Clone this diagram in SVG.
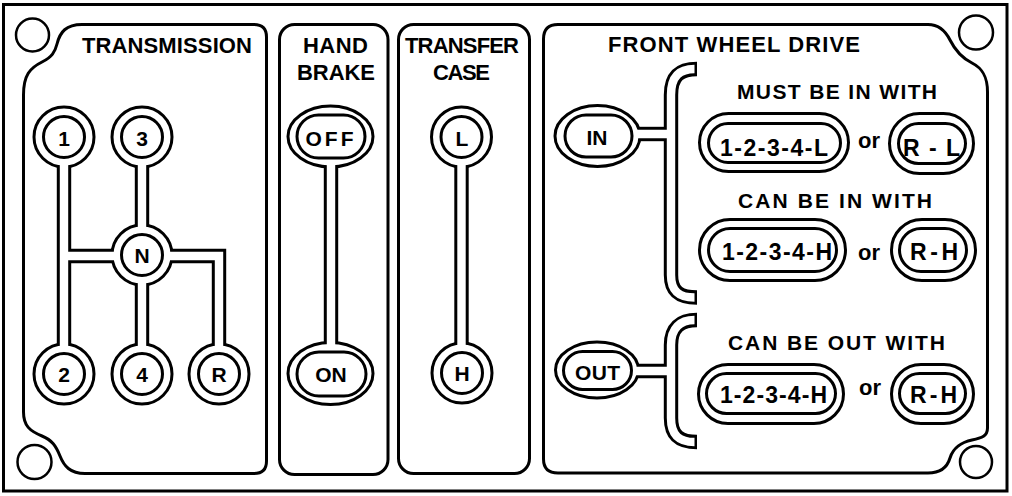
<svg xmlns="http://www.w3.org/2000/svg" width="1012" height="496" viewBox="0 0 1012 496">
<style>
.ln{fill:none;stroke:#000;stroke-width:3}
.hole{fill:none;stroke:#000;stroke-width:2.5}
.node{fill:#fff;stroke:#000;stroke-width:3}
.ring{fill:none;stroke:#000;stroke-width:3}
.t{font-family:"Liberation Sans",Arial,sans-serif;font-weight:bold;fill:#000;text-anchor:middle}
.h{font-size:22px}
.s{font-size:21px}
.k{font-size:21px}
.p{font-size:23px}
.cb{fill:none;stroke:#000;stroke-width:14.4;stroke-linecap:butt;stroke-linejoin:miter}
.cw{fill:none;stroke:#fff;stroke-width:8.4;stroke-linecap:butt;stroke-linejoin:miter}
</style>
<rect width="1012" height="496" fill="#fff"/>
<g id="plate">
<rect class="ln" x="3.5" y="4.5" width="1003.5" height="486.5"/>
<circle class="hole" cx="32.5" cy="35" r="16.5"/>
<circle class="hole" cx="34.5" cy="462" r="17"/>
<circle class="hole" cx="976" cy="32.5" r="17"/>
<circle class="hole" cx="976" cy="462" r="16"/>
</g>
<g id="panel-transmission">
<path class="ln" d="M23.5,95 C23.5,75 30,68 42,62 C52,57 55,52 57,44 C60,32 66,24.5 82,24.5 H254 Q266.5,24.5 266.5,37 V461 Q266.5,473.5 254,473.5 H85 C70,473.5 64,466 60,456 C56,446 52,440 42,436 C30,431 23.5,426 23.5,412 Z"/>
<text class="t h" x="167" y="53" textLength="170">TRANSMISSION</text>
</g>
<g id="panel-hand-brake">
<rect class="ln" x="279.5" y="24.5" width="108.5" height="450" rx="15"/>
<text class="t h" x="335.5" y="53" textLength="65">HAND</text>
<text class="t h" x="336" y="80" textLength="78">BRAKE</text>
</g>
<g id="panel-transfer-case">
<rect class="ln" x="398.5" y="24.5" width="131" height="449" rx="15"/>
<text class="t h" x="462" y="53" textLength="114">TRANSFER</text>
<text class="t h" x="461.5" y="80" textLength="57">CASE</text>
</g>
<g id="panel-front-wheel-drive">
<path class="ln" d="M558,24.5 H928 C940,24.5 946,32 950,40 C955,50 962,58 972,63 C982,68 987.5,76 987.5,92 V428 C987.5,436 982,438 972,440 C962,442 953,448 950,458 C947,468 940,473 928,473 H558 Q543.5,473 543.5,459 V39 Q543.5,24.5 558,24.5 Z"/>
<text class="t h" x="734" y="52" textLength="252">FRONT WHEEL DRIVE</text>
<text class="t s" x="837" y="99" textLength="200">MUST BE IN WITH</text>
<text class="t s" x="835" y="208" textLength="194">CAN BE IN WITH</text>
<text class="t s" x="836.5" y="350" textLength="217">CAN BE OUT WITH</text>
</g>
<g id="gear-1"><circle class="node" cx="64" cy="137" r="30"/><circle class="ring" cx="64" cy="137" r="20.5"/><text class="t k" x="64" y="146">1</text></g>
<g id="gear-3"><circle class="node" cx="142" cy="137" r="30"/><circle class="ring" cx="142" cy="137" r="20.5"/><text class="t k" x="142" y="146">3</text></g>
<g id="gear-N"><circle class="node" cx="142" cy="255" r="30"/><circle class="ring" cx="142" cy="255" r="20.5"/><text class="t k" x="142" y="263">N</text></g>
<g id="gear-2"><circle class="node" cx="64" cy="374" r="30"/><circle class="ring" cx="64" cy="374" r="20.5"/><text class="t k" x="64" y="382">2</text></g>
<g id="gear-4"><circle class="node" cx="142" cy="374" r="30"/><circle class="ring" cx="142" cy="374" r="20.5"/><text class="t k" x="142" y="382">4</text></g>
<g id="gear-R"><circle class="node" cx="219" cy="374" r="30"/><circle class="ring" cx="219" cy="374" r="20.5"/><text class="t k" x="219" y="382">R</text></g>
<g id="brake-off"><ellipse class="node" cx="330.5" cy="136.5" rx="42.5" ry="30.5"/><rect class="ring" x="297" y="115" width="68" height="43" rx="21.5"/><text class="t k" x="329.5" y="146" textLength="48">OFF</text></g>
<g id="brake-on"><ellipse class="node" cx="330.5" cy="373.5" rx="42.5" ry="31"/><rect class="ring" x="297" y="352" width="69" height="44" rx="22"/><text class="t k" x="331" y="382">ON</text></g>
<g id="transfer-L"><circle class="node" cx="461.5" cy="137" r="30"/><circle class="ring" cx="461.5" cy="137" r="20.5"/><text class="t k" x="462" y="146">L</text></g>
<g id="transfer-H"><circle class="node" cx="462" cy="373" r="30"/><circle class="ring" cx="462" cy="373" r="20.5"/><text class="t k" x="462" y="381">H</text></g>
<g id="fwd-in"><ellipse class="node" cx="597.5" cy="136" rx="42.5" ry="30.5"/><rect class="ring" x="565" y="115" width="67" height="42" rx="21"/><text class="t k" x="597" y="145">IN</text></g>
<g id="fwd-out"><ellipse class="node" cx="597" cy="370" rx="41.5" ry="28"/><rect class="ring" x="563.5" y="351.5" width="68" height="38" rx="19"/><text class="t k" x="597.5" y="380" textLength="45">OUT</text></g>
<g id="in-1234L"><rect class="ring" x="699.5" y="113.5" width="149" height="58" rx="29"/><rect class="ring" x="708.5" y="123.5" width="132" height="39" rx="19.5"/><text class="t p" x="774" y="156" textLength="108">1-2-3-4-L</text></g>
<g id="in-RL"><rect class="ring" x="889.5" y="113.5" width="84" height="60" rx="30"/><rect class="ring" x="898.5" y="123.5" width="67" height="40" rx="20"/><text class="t p" x="931.5" y="156" textLength="57">R-L</text></g>
<text class="t h" x="869" y="148">or</text>
<g id="in-1234H"><rect class="ring" x="699.5" y="219.5" width="146" height="61" rx="30.5"/><rect class="ring" x="708.5" y="228.5" width="128" height="43" rx="21.5"/><text class="t p" x="777" y="260" textLength="110">1-2-3-4-H</text></g>
<g id="in-RH"><rect class="ring" x="891.5" y="219.5" width="84" height="61" rx="30.5"/><rect class="ring" x="899.5" y="228.5" width="67" height="43" rx="21.5"/><text class="t p" x="934" y="260" textLength="48">R-H</text></g>
<text class="t h" x="869" y="260">or</text>
<g id="out-1234H"><rect class="ring" x="698.5" y="364.5" width="145" height="59" rx="29.5"/><rect class="ring" x="706.5" y="373.5" width="129" height="40" rx="20"/><text class="t p" x="773.5" y="403" textLength="107">1-2-3-4-H</text></g>
<g id="out-RH"><rect class="ring" x="891.5" y="364.5" width="82" height="59" rx="29.5"/><rect class="ring" x="899.5" y="373.5" width="66" height="40" rx="20"/><text class="t p" x="933.5" y="403" textLength="47">R-H</text></g>
<text class="t h" x="870" y="395">or</text>
<g id="connectors">
<path class="cb" d="M64,166 V345"/>
<path class="cb" d="M142,166 V226"/>
<path class="cb" d="M142,284 V345"/>
<path class="cb" d="M64,256 H113"/>
<path class="cb" d="M171,256 H219 V345"/>
<path class="cb" d="M331,166 V343.5"/>
<path class="cb" d="M461.5,166 V344"/>
<path class="cb" d="M697,69 C680,69 671,76 671,95 V275 C671,292 680,297.5 697,297.5"/>
<path class="cb" d="M639,134 H671"/>
<path class="cb" d="M697,320 C680,320 671,328 671,345 V418 C671,436 680,442 697,442"/>
<path class="cb" d="M637,371 H671"/>
<path class="cw" d="M64,163 V348"/>
<path class="cw" d="M142,163 V229"/>
<path class="cw" d="M142,281 V348"/>
<path class="cw" d="M64,256 H116"/>
<path class="cw" d="M168,256 H219 V348"/>
<path class="cw" d="M331,163 V346.5"/>
<path class="cw" d="M461.5,163 V347"/>
<path class="cw" d="M694.5,69 C680,69 671,76 671,95 V275 C671,292 680,297.5 694.5,297.5"/>
<path class="cw" d="M636,134 H671"/>
<path class="cw" d="M694.5,320 C680,320 671,328 671,345 V418 C671,436 680,442 694.5,442"/>
<path class="cw" d="M634,371 H671"/>
</g>
</svg>
